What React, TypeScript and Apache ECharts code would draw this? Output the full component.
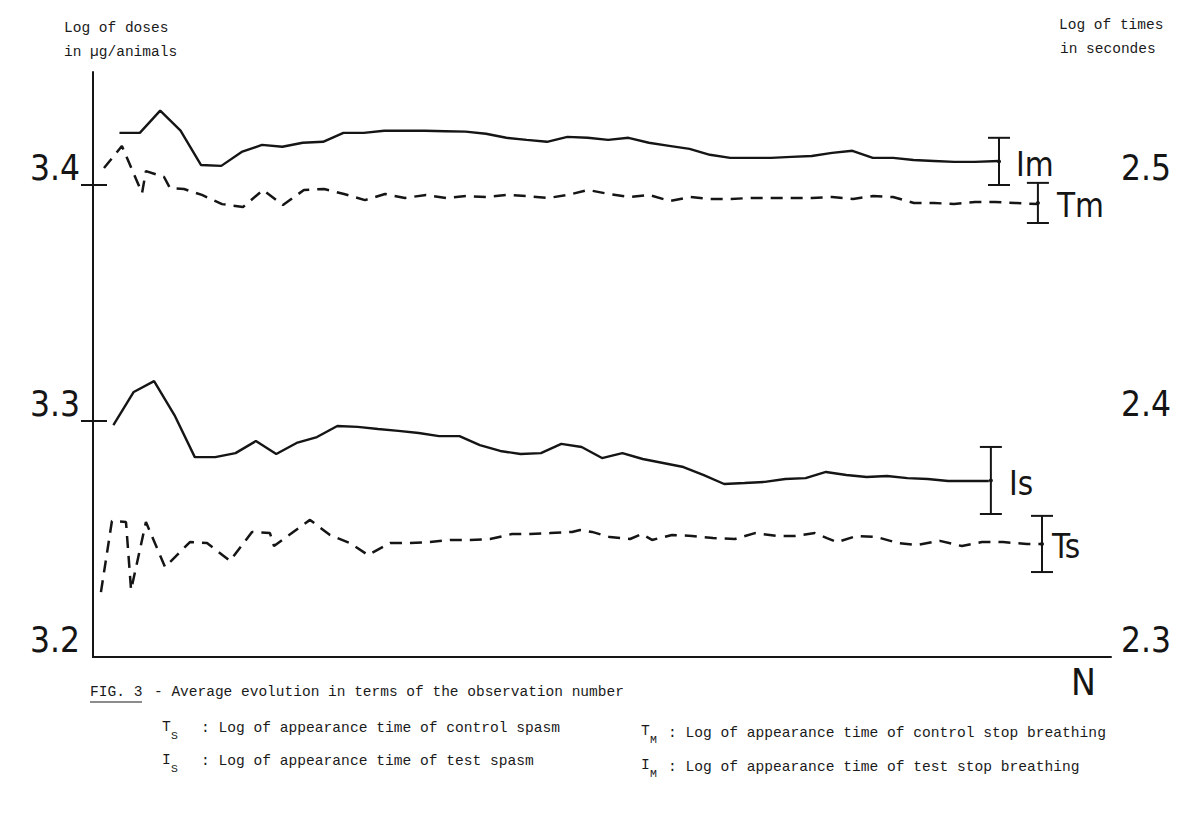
import React, { useEffect, useRef } from "react";
import * as echarts from "echarts";

// ---- data ----
// Im : test stop breathing (left axis, solid)
const imN = [1.3, 2.3, 3.3, 4.3, 5.3, 6.3, 7.3, 8.3, 9.3, 10.3, 11.3, 12.3, 13.3, 14.3, 15.3, 16.3, 17.3, 18.3, 19.3, 20.3, 21.3, 22.3, 23.3, 24.3, 25.3, 26.3, 27.3, 28.3, 29.3, 30.3, 31.3, 32.3, 33.3, 34.3, 35.3, 36.3, 37.3, 38.3, 39.3, 40.3, 41.3, 42.3, 43.3, 44.5];
const imV = [3.4221, 3.4221, 3.4315, 3.423, 3.4085, 3.4081, 3.414, 3.417, 3.4162, 3.4179, 3.4183, 3.4221, 3.4221, 3.423, 3.423, 3.423, 3.4228, 3.4226, 3.4217, 3.42, 3.4191, 3.4183, 3.4204, 3.42, 3.4191, 3.42, 3.4179, 3.4166, 3.4153, 3.4128, 3.4115, 3.4115, 3.4115, 3.4119, 3.4123, 3.4136, 3.4145, 3.4115, 3.4115, 3.4106, 3.4102, 3.4098, 3.4098, 3.4102];

// Is : test spasm (left axis, solid)
const isN = [1, 2, 3, 4, 5, 6, 7, 8, 9, 10, 11, 12, 13, 14, 15, 16, 17, 18, 19, 20, 21, 22, 23, 24, 25, 26, 27, 28, 29, 30, 31, 32, 33, 34, 35, 36, 37, 38, 39, 40, 41, 42, 43, 44];
const isV = [3.2983, 3.3123, 3.3169, 3.3025, 3.2847, 3.2847, 3.2864, 3.2915, 3.286, 3.2907, 3.2932, 3.2979, 3.2975, 3.2966, 3.2958, 3.2949, 3.2936, 3.2936, 3.2898, 3.2873, 3.286, 3.2864, 3.2903, 3.289, 3.2843, 3.2864, 3.2839, 3.2822, 3.2805, 3.2771, 3.2733, 3.2737, 3.2742, 3.2754, 3.2758, 3.2784, 3.2771, 3.2763, 3.2767, 3.2758, 3.2754, 3.2746, 3.2746, 3.2746];

// Tm : control stop breathing (right axis, dashed)
const tmN = [0.54, 1.42, 2.41, 2.6, 3.49, 3.78, 4.47, 5.35, 6.34, 7.37, 8.35, 9.33, 10.36, 11.35, 12.33, 13.36, 14.34, 15.32, 16.36, 17.34, 18.32, 19.35, 20.33, 21.32, 22.35, 23.33, 24.31, 25.34, 26.33, 27.31, 28.34, 29.32, 30.3, 31.34, 32.32, 33.3, 34.33, 35.31, 36.3, 37.33, 38.31, 39.29, 40.32, 41.31, 42.29, 43.32, 44.3, 45.29, 46.41];
const tmV = [2.5072, 2.5165, 2.4966, 2.5059, 2.5034, 2.4987, 2.4983, 2.4958, 2.4919, 2.4907, 2.4979, 2.4915, 2.4979, 2.4983, 2.4962, 2.4936, 2.4962, 2.4945, 2.4958, 2.4945, 2.4953, 2.4949, 2.4958, 2.4953, 2.4945, 2.4958, 2.4979, 2.4962, 2.4949, 2.4958, 2.4932, 2.4949, 2.4941, 2.4941, 2.4945, 2.4945, 2.4945, 2.4945, 2.4949, 2.4941, 2.4953, 2.4949, 2.4924, 2.4924, 2.4919, 2.4928, 2.4928, 2.4924, 2.4919];

// Ts : control spasm (right axis, dashed)
const tsN = [0.39, 0.93, 1.62, 1.87, 2.6, 3.54, 4.76, 5.6, 6.73, 7.81, 8.69, 8.89, 10.66, 11.64, 12.62, 13.51, 14.59, 15.57, 16.55, 17.53, 18.52, 19.5, 20.58, 21.46, 22.45, 23.53, 23.92, 24.51, 25.39, 26.38, 26.96, 27.46, 28.44, 29.42, 30.45, 31.53, 32.51, 33.6, 34.48, 35.46, 36.05, 36.54, 37.52, 38.51, 39.54, 40.47, 41.6, 42.68, 43.66, 44.7, 45.87, 46.61];
const tsV = [2.3275, 2.3576, 2.3572, 2.3284, 2.3572, 2.3381, 2.3487, 2.3483, 2.3407, 2.353, 2.3525, 2.347, 2.3581, 2.3517, 2.3483, 2.3432, 2.3483, 2.3483, 2.3487, 2.3496, 2.3496, 2.35, 2.3521, 2.3521, 2.3525, 2.353, 2.3538, 2.353, 2.3508, 2.35, 2.3521, 2.3496, 2.3517, 2.3513, 2.3504, 2.35, 2.3525, 2.3513, 2.3513, 2.3525, 2.3504, 2.3487, 2.3513, 2.3508, 2.3483, 2.3475, 2.3492, 2.347, 2.3487, 2.3487, 2.3479, 2.3479];

// error bars (N, centre, half-length)
const barsLeftText = ["Im", "Is"];
const barsLeftN = [44.5, 44.1];
const barsLeftC = [3.41, 3.2748];
const barsLeftH = [0.01, 0.0142];
const barsRightText = ["Tm", "Ts"];
const barsRightN = [46.41, 46.61];
const barsRightC = [2.4924, 2.3479];
const barsRightH = [0.0085, 0.0119];

// axes
const leftTicks = [3.2, 3.3, 3.4];
const rightTicks = [2.3, 2.4, 2.5];
const nMin = 0;
const nMax = 50;

// ---- styles ----
const INK = "#151515";
const TXT = "#1a1a1a";
const SANS = '"Liberation Sans Narrow", "DejaVu Sans Condensed", Roboto, sans-serif';
const MONO = '"Liberation Mono", "DejaVu Sans Mono", monospace';
const labelDx: Record<string, number> = { Im: 17, Is: 18, Tm: 19, Ts: 10 };

const zip = (a: number[], b: number[]) => a.map((v, i) => [v, b[i]]);

const fmt = (v: number) =>
  Math.abs(v * 10 - Math.round(v * 10)) < 1e-6 ? v.toFixed(1) : "";

function barRenderer(texts: string[]) {
  return (params: any, api: any) => {
    const x = api.value(0);
    const c = api.value(1);
    const h = api.value(2);
    const top = api.coord([x, c + h]);
    const bot = api.coord([x, c - h]);
    const mid = api.coord([x, c]);
    const w = 11;
    const name = texts[params.dataIndex];
    const ls = { stroke: INK, lineWidth: 2 };
    return {
      type: "group",
      children: [
        { type: "line", shape: { x1: top[0], y1: top[1], x2: bot[0], y2: bot[1] }, style: ls },
        { type: "line", shape: { x1: top[0] - w, y1: top[1], x2: top[0] + w, y2: top[1] }, style: ls },
        { type: "line", shape: { x1: bot[0] - w, y1: bot[1], x2: bot[0] + w, y2: bot[1] }, style: ls },
        { type: "circle", shape: { cx: mid[0], cy: mid[1], r: 2 }, style: { fill: INK } },
        {
          type: "text",
          x: mid[0] + (labelDx[name] || 12),
          y: mid[1] + 3,
          style: {
            text: name,
            fontSize: 33,
            fontFamily: SANS,
            fill: INK,
            align: "left",
            verticalAlign: "middle",
          },
        },
      ],
    };
  };
}

function monoText(text: string, x: number, y: number, size = 14.6) {
  return {
    type: "text",
    x,
    y,
    silent: true,
    style: { text, fontSize: size, fontFamily: MONO, fill: TXT, verticalAlign: "middle", align: "left" },
  };
}

function subText(text: string, x: number, y: number) {
  return {
    type: "text",
    x,
    y,
    silent: true,
    style: { text, fontSize: 11.5, fontFamily: MONO, fill: TXT, verticalAlign: "middle", align: "left" },
  };
}

export default function App() {
  const ref = useRef<HTMLDivElement>(null);

  useEffect(() => {
    if (!ref.current) return;
    const chart = echarts.init(ref.current, null, { renderer: "svg" });

    const axisLineStyle = { color: INK, width: 2 };

    const option: any = {
      animation: false,
      backgroundColor: "#ffffff",
      grid: [
        { left: 93, right: 87, top: 72, bottom: 166 },
        { left: 93, right: 87, top: 100, bottom: 166 },
      ],
      xAxis: [
        {
          gridIndex: 0,
          type: "value",
          min: nMin,
          max: nMax,
          axisLine: { show: true, onZero: false, lineStyle: axisLineStyle },
          axisTick: { show: false },
          axisLabel: { show: false },
          splitLine: { show: false },
        },
        {
          gridIndex: 1,
          type: "value",
          min: nMin,
          max: nMax,
          show: false,
          splitLine: { show: false },
        },
      ],
      yAxis: [
        {
          gridIndex: 0,
          type: "value",
          position: "left",
          min: 3.2,
          max: 3.2 + 585 / 2360,
          interval: 0.1,
          axisLine: { show: true, lineStyle: axisLineStyle },
          axisTick: {
            show: true,
            length: 12,
            lineStyle: { color: INK, width: 2 },
            customValues: [3.3, 3.4],
          },
          axisLabel: {
            show: true,
            margin: 13,
            fontSize: 35,
            fontFamily: SANS,
            color: INK,
            verticalAlign: "bottom",
            customValues: leftTicks,
            formatter: fmt,
          },
          splitLine: { show: false },
        },
        {
          gridIndex: 1,
          type: "value",
          position: "right",
          min: 2.3,
          max: 2.3 + 557 / 2360,
          interval: 0.1,
          axisLine: { show: true, lineStyle: axisLineStyle },
          axisTick: {
            show: true,
            length: 14,
            lineStyle: { color: INK, width: 2 },
            customValues: [2.4, 2.5],
          },
          axisLabel: {
            show: true,
            margin: 10,
            fontSize: 35,
            fontFamily: SANS,
            color: INK,
            verticalAlign: "bottom",
            customValues: rightTicks,
            formatter: fmt,
          },
          splitLine: { show: false },
        },
      ],
      series: [
        {
          name: "Im",
          type: "line",
          xAxisIndex: 0,
          yAxisIndex: 0,
          data: zip(imN, imV),
          symbol: "none",
          lineStyle: { color: INK, width: 2.4 },
        },
        {
          name: "Is",
          type: "line",
          xAxisIndex: 0,
          yAxisIndex: 0,
          data: zip(isN, isV),
          symbol: "none",
          lineStyle: { color: INK, width: 2.4 },
        },
        {
          name: "Tm",
          type: "line",
          xAxisIndex: 1,
          yAxisIndex: 1,
          data: zip(tmN, tmV),
          symbol: "none",
          lineStyle: { color: INK, width: 2.5, type: [12, 8] },
        },
        {
          name: "Ts",
          type: "line",
          xAxisIndex: 1,
          yAxisIndex: 1,
          data: zip(tsN, tsV),
          symbol: "none",
          lineStyle: { color: INK, width: 2.5, type: [12, 8] },
        },
        {
          name: "barsLeft",
          type: "custom",
          xAxisIndex: 0,
          yAxisIndex: 0,
          data: barsLeftN.map((n, i) => [n, barsLeftC[i], barsLeftH[i]]),
          renderItem: barRenderer(barsLeftText),
        },
        {
          name: "barsRight",
          type: "custom",
          xAxisIndex: 1,
          yAxisIndex: 1,
          data: barsRightN.map((n, i) => [n, barsRightC[i], barsRightH[i]]),
          renderItem: barRenderer(barsRightText),
        },
      ],
      graphic: [
        monoText("Log of doses", 64, 28, 14.5),
        monoText("in \u00b5g/animals", 64, 52, 14.5),
        monoText("Log of times", 1059, 25, 14.5),
        monoText("in secondes", 1060, 49, 14.5),
        {
          type: "text",
          x: 1071,
          y: 682,
          silent: true,
          style: { text: "N", fontSize: 37, fontFamily: SANS, fill: INK, verticalAlign: "middle", align: "left" },
        },
        monoText("FIG. 3", 90, 692, 14.6),
        {
          type: "line",
          silent: true,
          shape: { x1: 90, y1: 702, x2: 142, y2: 702 },
          style: { stroke: TXT, lineWidth: 1.2 },
        },
        monoText("- Average evolution in terms of the observation number", 154, 692, 14.5),
        monoText("T", 162, 727),
        subText("S", 171, 735),
        monoText(": Log of appearance time of control spasm", 201, 728),
        monoText("I", 162, 760),
        subText("S", 171, 768),
        monoText(": Log of appearance time of test spasm", 201, 761),
        monoText("T", 641, 731),
        subText("M", 650, 739),
        monoText(": Log of appearance time of control stop breathing", 668, 733),
        monoText("I", 641, 765),
        subText("M", 650, 773),
        monoText(": Log of appearance time of test stop breathing", 668, 767),
      ],
    };

    chart.setOption(option);
    return () => chart.dispose();
  }, []);

  return (
    <div
      ref={ref}
      style={{ position: "absolute", left: 0, top: 0, width: 1198, height: 823, background: "#fff" }}
    />
  );
}
